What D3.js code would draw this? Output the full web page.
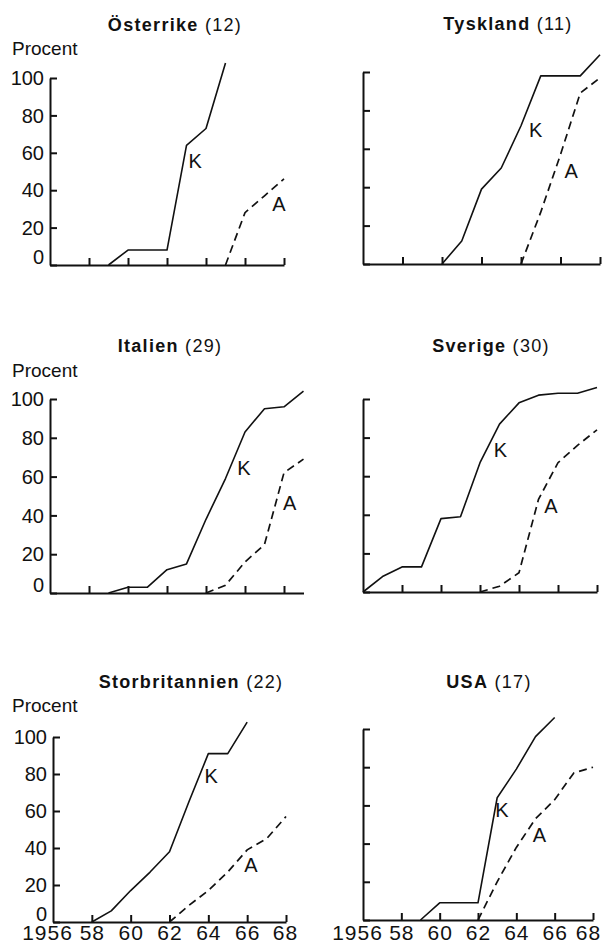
<!DOCTYPE html>
<html>
<head>
<meta charset="utf-8">
<script src="https://cdn.jsdelivr.net/npm/d3@7"></script>
<style>
  html, body { margin: 0; padding: 0; background: #fff; }
  svg { display: block; }
  text { font-family: "Liberation Sans", Arial, Helvetica, sans-serif; fill: #111; }
</style>
</head>
<body>
<svg id="chart" width="604" height="944"></svg>
<script>
// Countries and the number of firms behind each panel
const countries = ["Österrike", "Tyskland", "Italien", "Sverige", "Storbritannien", "USA"];
const counts = [12, 11, 29, 30, 22, 17];

// Curve K: first year and yearly percentages from that year on
const kStart = [1959, 1960, 1959, 1956, 1958, 1959];
const kValues = [
  [0, 8, 8, 8, 64, 73, 108],
  [0, 12, 39, 50, 72, 98, 98, 98, 109],
  [0, 3, 3, 12, 15, 38, 59, 83, 95, 96, 104],
  [0, 8, 13, 13, 38, 39, 67, 87, 98, 102, 103, 103, 106],
  [0, 6, 17, 27, 38, 65, 91, 91, 108],
  [0, 9, 9, 9, 64, 79, 96, 106]
];

// Curve A: first year and yearly percentages from that year on
const aStart = [1965, 1964, 1964, 1962, 1962, 1962];
const aValues = [
  [0, 28, 37, 46],
  [0, 27, 57, 89, 97],
  [0, 4, 16, 25, 62, 69],
  [0, 3, 10, 48, 67, 76, 84],
  [0, 9, 17, 27, 39, 45, 57],
  [0, 20, 38, 53, 63, 77, 80]
];

// Where the "K" and "A" letters sit, as [year, percent]
const kLabelAt = [[1963.1, 52], [1964.4, 66], [1965.6, 61], [1962.7, 70], [1963.8, 75], [1962.9, 54]];
const aLabelAt = [[1967.4, 29], [1966.2, 45], [1967.95, 43], [1965.3, 41], [1965.85, 27], [1964.85, 41]];

// Axis ticks
const yTicks = [0, 20, 40, 60, 80, 100];
const xTicks = [1958, 1960, 1962, 1964, 1966, 1968];
const xTickYears = [1956, 1958, 1960, 1962, 1964, 1966, 1968];
const xTickLabels = ["1956", "58", "60", "62", "64", "66", "68"];
const yTitle = "Procent";

// Panel frames: pixel geometry of each small chart
const panels = [
  { x0: 50,  x1: 284, yBase: 265, yTop: 78,  xEnd: 1968, titleX: 175, titleY: 31,  procentY: 55,  labels: true,  bottom: false, lastDx: 0 },
  { x0: 363, x1: 600, yBase: 264, yTop: 72,  xEnd: 1968, titleX: 508, titleY: 30,  procentY: null, labels: false, bottom: false, lastDx: 0 },
  { x0: 50,  x1: 284, yBase: 593, yTop: 399, xEnd: 1969, titleX: 170, titleY: 352, procentY: 377, labels: true,  bottom: false, lastDx: 0 },
  { x0: 363, x1: 597, yBase: 592, yTop: 399, xEnd: 1968, titleX: 491, titleY: 352, procentY: null, labels: false, bottom: false, lastDx: 0 },
  { x0: 53,  x1: 286, yBase: 922, yTop: 737, xEnd: 1968, titleX: 191, titleY: 688, procentY: 712, labels: true,  bottom: true,  lastDx: -1 },
  { x0: 363, x1: 593, yBase: 920, yTop: 729, xEnd: 1968, titleX: 489, titleY: 688, procentY: null, labels: false, bottom: true,  lastDx: -5 }
];
const bottomLabelY = 939.5;

const svg = d3.select("#chart");

function series(start, values) {
  return values.map((v, i) => ({ year: start + i, value: v }));
}

panels.forEach((p, i) => {
  const perYear = (p.x1 - p.x0) / 12;
  const x = d3.scaleLinear().domain([1956, p.xEnd]).range([p.x0, p.x0 + perYear * (p.xEnd - 1956)]);
  const y = d3.scaleLinear().domain([0, 100]).range([p.yBase, p.yTop]);
  const g = svg.append("g");

  // Title: bold country name followed by the count in parentheses
  const t = g.append("text")
    .attr("x", p.titleX).attr("y", p.titleY)
    .attr("text-anchor", "middle")
    .style("font-size", "18px")
    .style("letter-spacing", "1.3px");
  t.append("tspan").style("font-weight", "bold").text(countries[i]);
  t.append("tspan").text(" (" + counts[i] + ")");

  if (p.procentY !== null) {
    g.append("text")
      .attr("x", 12).attr("y", p.procentY)
      .style("font-size", "19px")
      .text(yTitle);
  }

  // Y axis, ticks pointing inward
  const yAxis = d3.axisLeft(y)
    .tickValues(yTicks)
    .tickSize(-7)
    .tickSizeOuter(0)
    .tickPadding(6)
    .tickFormat(p.labels ? d3.format("d") : () => "");
  const ya = g.append("g").attr("transform", `translate(${p.x0},0)`).call(yAxis);
  ya.select(".domain").attr("stroke", "#111").attr("stroke-width", 2);
  ya.selectAll(".tick line").attr("stroke", "#111").attr("stroke-width", 2);
  ya.selectAll(".tick text")
    .attr("fill", "#111")
    .style("font-size", "20px")
    .style("font-family", "\"Liberation Sans\", Arial, sans-serif")
    .attr("dy", d => d === 0 ? "-0.1em" : "0.33em");

  // X axis, ticks pointing inward
  const xAxis = d3.axisBottom(x)
    .tickValues(p.bottom ? xTickYears : xTicks)
    .tickSize(-7)
    .tickSizeOuter(0)
    .tickFormat(p.bottom ? (d => xTickLabels[xTickYears.indexOf(d)]) : () => "");
  const xa = g.append("g").attr("transform", `translate(0,${p.yBase})`).call(xAxis);
  xa.select(".domain").attr("stroke", "#111").attr("stroke-width", 2);
  xa.selectAll(".tick line").attr("stroke", "#111").attr("stroke-width", 2)
    .attr("opacity", d => d === 1956 ? 0 : 1);
  xa.selectAll(".tick text")
    .attr("fill", "#111")
    .style("font-size", "21px")
    .style("letter-spacing", "1px")
    .style("font-family", "\"Liberation Sans\", Arial, sans-serif")
    .attr("y", bottomLabelY - p.yBase)
    .attr("dy", 0)
    .attr("dx", d => d === 1956 ? -6 : (d === 1968 ? p.lastDx : 0));

  const line = d3.line().x(d => x(d.year)).y(d => y(d.value));

  // K: solid curve
  g.append("path")
    .datum(series(kStart[i], kValues[i]))
    .attr("d", line)
    .attr("fill", "none")
    .attr("stroke", "#111")
    .attr("stroke-width", 1.6)
    .attr("stroke-linejoin", "round");

  // A: dashed curve
  g.append("path")
    .datum(series(aStart[i], aValues[i]))
    .attr("d", line)
    .attr("fill", "none")
    .attr("stroke", "#111")
    .attr("stroke-width", 1.7)
    .attr("stroke-dasharray", "8,5");

  g.append("text")
    .attr("x", x(kLabelAt[i][0])).attr("y", y(kLabelAt[i][1]))
    .style("font-size", "20px")
    .text("K");
  g.append("text")
    .attr("x", x(aLabelAt[i][0])).attr("y", y(aLabelAt[i][1]))
    .style("font-size", "20px")
    .text("A");
});
</script>
</body>
</html>
